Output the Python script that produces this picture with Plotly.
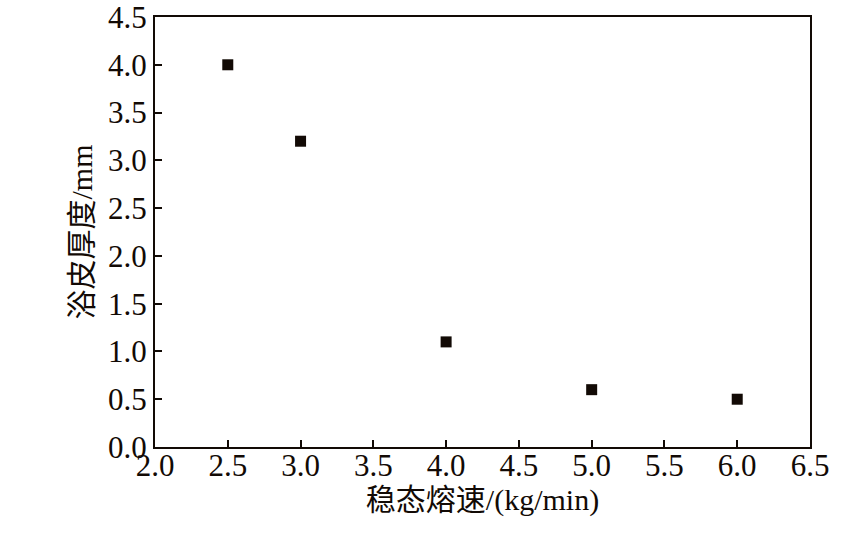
import plotly.graph_objects as go

melt_rate = [2.5, 3.0, 4.0, 5.0, 6.0]
skin_thickness = [4.0, 3.2, 1.1, 0.6, 0.5]

x_ticks = [2.0, 2.5, 3.0, 3.5, 4.0, 4.5, 5.0, 5.5, 6.0, 6.5]
y_ticks = [0.0, 0.5, 1.0, 1.5, 2.0, 2.5, 3.0, 3.5, 4.0, 4.5]

FONT = "Liberation Serif, Times New Roman, Noto Sans CJK SC, serif"

fig = go.Figure()
fig.add_trace(go.Scatter(
    x=melt_rate, y=skin_thickness, mode="markers",
    marker=dict(symbol="square", size=11, color="#120a05", line=dict(width=0)),
    showlegend=False, cliponaxis=False,
))

axis_common = dict(
    showgrid=False, zeroline=False, showline=True, linecolor="#120a05", linewidth=2,
    mirror=True, ticks="inside", ticklen=7, tickwidth=2, tickcolor="#120a05",
    tickfont=dict(family=FONT, size=31, color="#120a05"), automargin=False,
    ticklabeloverflow="allow",
)

fig.update_layout(
    width=858, height=543,
    margin=dict(l=155, r=48, t=17, b=96),
    paper_bgcolor="white", plot_bgcolor="white",
    xaxis=dict(
        range=[2.0, 6.5], tickvals=x_ticks, ticktext=[f"{v:.1f}" for v in x_ticks],
        ticklabelstandoff=-10,
        title=dict(text="稳态熔速/(kg/min)", font=dict(family=FONT, size=30, color="#120a05"), standoff=6),
        **axis_common,
    ),
    yaxis=dict(
        range=[0.0, 4.5], tickvals=y_ticks, ticktext=[f"{v:.1f}" for v in y_ticks],
        title=dict(text="浴皮厚度/mm", font=dict(family=FONT, size=30, color="#120a05"), standoff=7),
        **axis_common,
    ),
)

fig.write_html("out.html", config={"displayModeBar": False},
               post_script="document.body.style.margin='0';")
